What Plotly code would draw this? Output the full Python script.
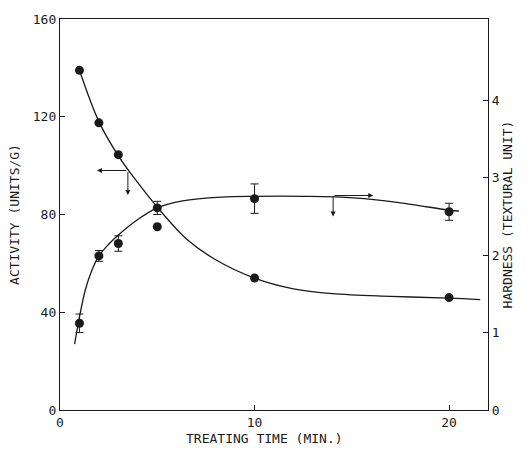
import plotly.graph_objects as go

# ---- data ----
time_pts = [1, 2, 3, 5, 10, 20]
activity = [139, 117.5, 104.5, 75, 54, 46]
hardness = [1.12, 1.99, 2.15, 2.61, 2.73, 2.56]
hardness_err = [0.12, 0.07, 0.10, 0.085, 0.19, 0.11]

act_curve_x = [1, 2, 3, 4, 5, 6.5, 8, 10, 12, 14, 17, 20, 21.6]
act_curve_y = [139, 118, 104, 93, 83, 70, 61.5, 54, 49.6, 47.6, 46.5, 45.8, 45.2]

hard_curve_x = [0.75, 1, 1.3, 1.6, 2, 2.5, 3, 4, 5, 6.3, 8.3, 10, 12.6, 15.1, 17.7, 20, 20.5]
hard_curve_y = [0.85, 1.2, 1.55, 1.78, 1.99, 2.14, 2.26, 2.46, 2.61, 2.70, 2.75, 2.76, 2.76, 2.74, 2.67, 2.58, 2.57]

x_ticks = [0, 10, 20]
act_ticks = [0, 40, 80, 120, 160]
hard_ticks = [0, 1, 2, 3, 4]

# axis-indicator arrows: (junction x, junction y, horizontal head x, vertical head y)
act_arrow = [3.49, 98, 1.9, 88]
hard_arrow = [14.04, 2.77, 16.1, 2.5]

FONT = "DejaVu Sans Mono"
INK = "#1a1a1a"

fig = go.Figure()

fig.add_trace(go.Scatter(x=act_curve_x, y=act_curve_y, mode="lines",
                         line=dict(color=INK, width=1.3, shape="spline", smoothing=1.0),
                         showlegend=False, hoverinfo="skip"))
fig.add_trace(go.Scatter(x=time_pts, y=activity, mode="markers",
                         marker=dict(color=INK, size=9), showlegend=False))
fig.add_trace(go.Scatter(x=hard_curve_x, y=hard_curve_y, mode="lines", yaxis="y2",
                         line=dict(color=INK, width=1.3, shape="spline"),
                         showlegend=False, hoverinfo="skip"))
fig.add_trace(go.Scatter(x=time_pts, y=hardness, mode="markers", yaxis="y2",
                         marker=dict(color=INK, size=9),
                         error_y=dict(type="data", array=hardness_err, color=INK,
                                      thickness=1, width=4),
                         showlegend=False))

ann = []
jx, jy, hx, vy = act_arrow
ann.append(dict(x=hx, y=jy, ax=jx, ay=jy, xref="x", yref="y", axref="x", ayref="y",
                showarrow=True, arrowhead=2, arrowsize=1, arrowwidth=1, arrowcolor=INK, text=""))
ann.append(dict(x=jx, y=vy, ax=jx, ay=jy, xref="x", yref="y", axref="x", ayref="y",
                showarrow=True, arrowhead=2, arrowsize=1, arrowwidth=1, arrowcolor=INK, text=""))
jx, jy, hx, vy = hard_arrow
ann.append(dict(x=hx, y=jy, ax=jx, ay=jy, xref="x", yref="y2", axref="x", ayref="y2",
                showarrow=True, arrowhead=2, arrowsize=1, arrowwidth=1, arrowcolor=INK, text=""))
ann.append(dict(x=jx, y=vy, ax=jx, ay=jy, xref="x", yref="y2", axref="x", ayref="y2",
                showarrow=True, arrowhead=2, arrowsize=1, arrowwidth=1, arrowcolor=INK, text=""))
ann.append(dict(text="TREATING TIME (MIN.)", xref="paper", yref="paper", x=0.477, y=-0.072,
                showarrow=False, xanchor="center", yanchor="middle",
                font=dict(family=FONT, size=13, color=INK)))

fig.update_layout(
    width=528, height=451,
    margin=dict(l=60, r=40, t=19, b=41),
    paper_bgcolor="white", plot_bgcolor="white",
    font=dict(family=FONT, size=13, color=INK),
    showlegend=False,
    annotations=ann,
    xaxis=dict(range=[0, 22], tickvals=x_ticks, ticks="inside", ticklen=5, tickcolor=INK,
               showline=True, linecolor=INK, linewidth=1.3, mirror=True,
               showgrid=False, zeroline=False, tickfont=dict(size=13)),
    yaxis=dict(range=[0, 160], tickvals=act_ticks, ticks="inside", ticklen=5, tickcolor=INK,
               showline=True, linecolor=INK, linewidth=1.3,
               showgrid=False, zeroline=False, tickfont=dict(size=13),
               title=dict(text="ACTIVITY (UNITS/G)", font=dict(size=13), standoff=10)),
    yaxis2=dict(range=[0, 5.05], tickvals=hard_ticks, overlaying="y", side="right",
                ticks="inside", ticklen=5, tickcolor=INK,
                showline=True, linecolor=INK, linewidth=1.3,
                showgrid=False, zeroline=False, tickfont=dict(size=13),
                title=dict(text="HARDNESS (TEXTURAL UNIT)", font=dict(size=13), standoff=4)),
)

fig.write_html("out.html")
